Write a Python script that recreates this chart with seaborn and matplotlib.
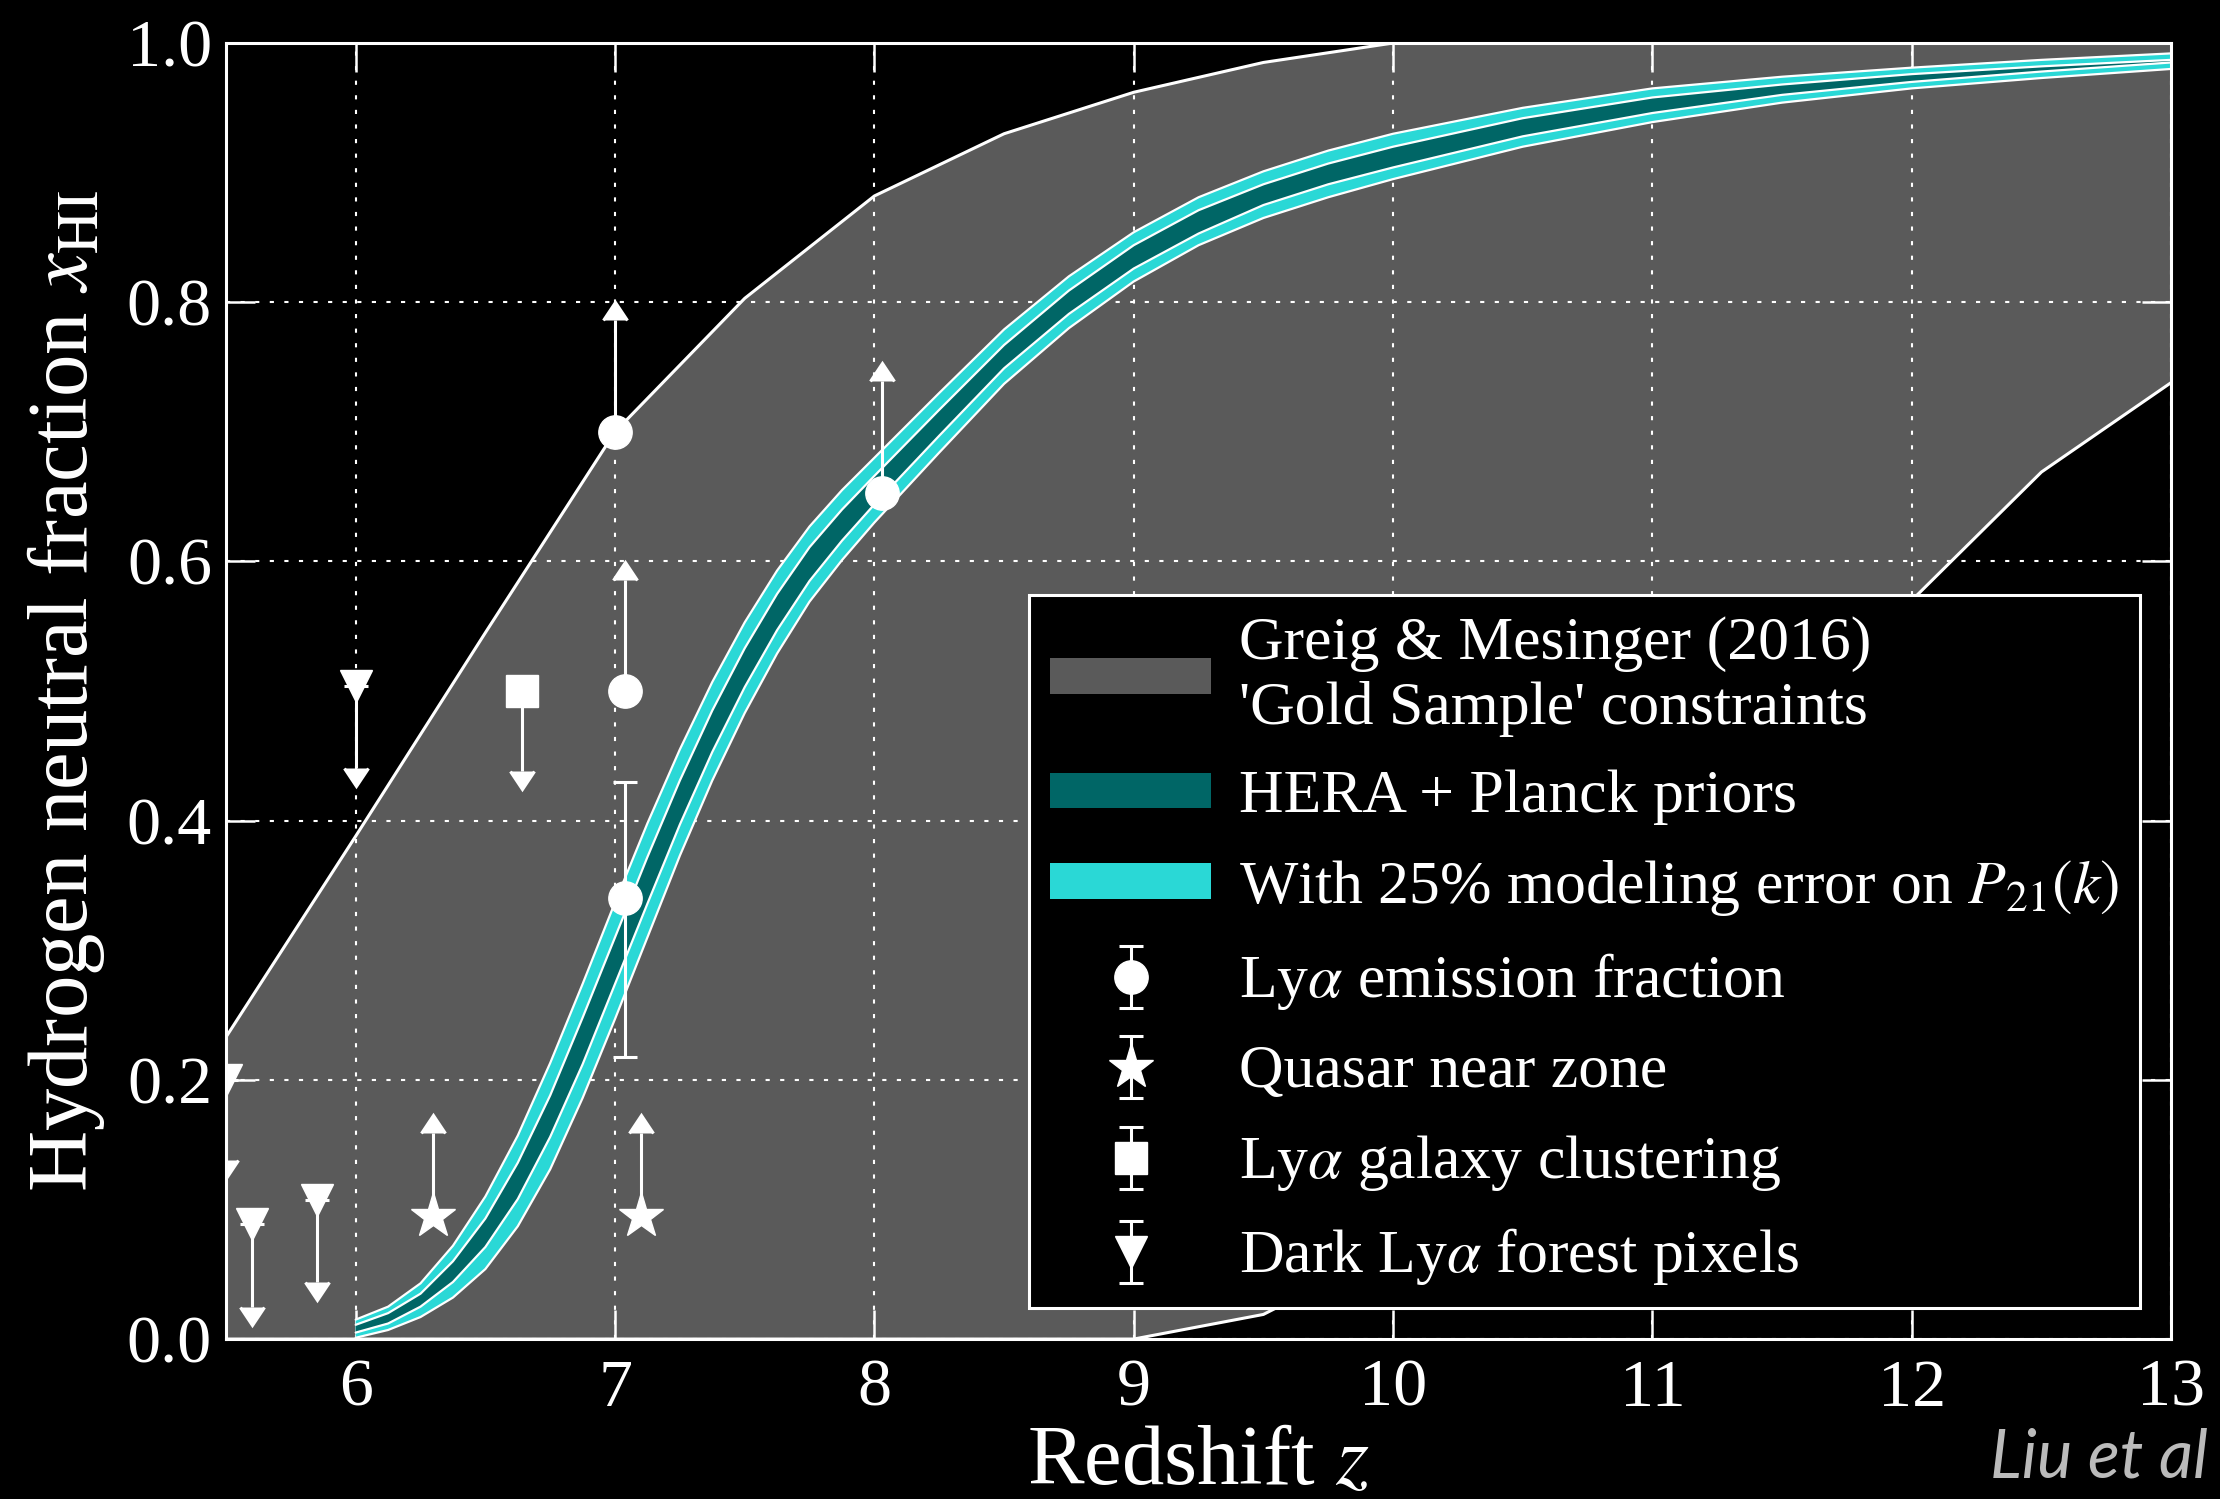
import matplotlib
matplotlib.use("Agg")
import matplotlib.pyplot as plt
from matplotlib.ticker import FormatStrFormatter
import pandas as pd
import seaborn as sns

# Greig & Mesinger (2016) 'Gold Sample' envelope
gm_z = [5.5, 6.0, 6.5, 7.0, 7.5, 8.0, 8.5, 9.0, 9.5, 10.0, 10.5, 11.0, 11.5, 12.0, 12.5, 13.0]
gm_upper = [0.233, 0.388, 0.545, 0.700, 0.803, 0.882, 0.930, 0.962, 0.985, 1.0,
            1.0, 1.0, 1.0, 1.0, 1.0, 1.0]
gm_lower = [0.0, 0.0, 0.0, 0.0, 0.0, 0.0, 0.0, 0.0, 0.019, 0.07,
            0.17, 0.30, 0.44, 0.57, 0.669, 0.738]

# HERA forecast bands
band_z = [6.0, 6.125, 6.25, 6.375, 6.5, 6.625, 6.75, 6.875, 7.0, 7.125, 7.25, 7.375,
          7.5, 7.625, 7.75, 7.875, 8.0, 8.25, 8.5, 8.75, 9.0, 9.25, 9.5, 9.75,
          10.0, 10.5, 11.0, 11.5, 12.0, 12.5, 13.0]
cyan_lo = [0.001, 0.007, 0.017, 0.032, 0.054, 0.087, 0.131, 0.186, 0.247, 0.310, 0.373,
           0.431, 0.483, 0.529, 0.569, 0.601, 0.630, 0.684, 0.737, 0.780, 0.816, 0.844,
           0.865, 0.881, 0.895, 0.920, 0.939, 0.954, 0.965, 0.973, 0.980]
cyan_hi = [0.015, 0.025, 0.043, 0.072, 0.110, 0.157, 0.213, 0.274, 0.337, 0.398, 0.455,
           0.507, 0.553, 0.593, 0.627, 0.655, 0.680, 0.730, 0.779, 0.820, 0.854, 0.881,
           0.901, 0.917, 0.930, 0.950, 0.965, 0.974, 0.981, 0.987, 0.992]
teal_lo = [0.005, 0.012, 0.025, 0.044, 0.071, 0.108, 0.156, 0.212, 0.274, 0.336, 0.397,
           0.453, 0.503, 0.547, 0.585, 0.616, 0.644, 0.697, 0.749, 0.791, 0.826, 0.853,
           0.875, 0.891, 0.904, 0.928, 0.946, 0.960, 0.970, 0.978, 0.985]
teal_hi = [0.011, 0.020, 0.035, 0.060, 0.093, 0.136, 0.188, 0.248, 0.310, 0.372, 0.431,
           0.485, 0.533, 0.575, 0.611, 0.640, 0.666, 0.717, 0.767, 0.809, 0.844, 0.871,
           0.891, 0.907, 0.920, 0.942, 0.958, 0.968, 0.976, 0.982, 0.987]

# Observational constraints
emis_z = [7.0, 7.04, 7.04, 8.03]
emis_x = [0.700, 0.500, 0.340, 0.653]
emis_err_lo = [0.0, 0.0, 0.122, 0.0]
emis_err_hi = [0.086, 0.086, 0.090, 0.086]
emis_lolim = [True, True, False, True]

qso_z = [6.3, 7.1]
qso_x = [0.095, 0.095]
qso_err = [0.064, 0.064]

clus_z = [6.64]
clus_x = [0.50]
clus_err = [0.062]

dark_z = [5.5, 5.6, 5.85, 6.0]
dark_x = [0.200, 0.089, 0.107, 0.504]
dark_err = [0.062, 0.064, 0.063, 0.063]

x_ticks = [6, 7, 8, 9, 10, 11, 12, 13]
y_ticks = [0.0, 0.2, 0.4, 0.6, 0.8, 1.0]

GREY = "#5a5a5a"
TEAL = "#006666"
CYAN = "#2ad8d6"

sns.set_style("ticks")
plt.rcParams.update({
    "font.family": ["Liberation Serif", "DejaVu Serif"],
    "mathtext.fontset": "stix",
    "text.color": "white",
    "axes.labelcolor": "white",
    "xtick.color": "white",
    "ytick.color": "white",
    "axes.edgecolor": "white",
    "figure.facecolor": "black",
    "axes.facecolor": "black",
})

fig = plt.figure(figsize=(22.2, 14.99), dpi=100, facecolor="black")
ax = fig.add_axes([0.1018, 0.1067, 0.8762, 0.8646])
ax.set_facecolor("black")
ax.set_axisbelow(True)

gm = pd.DataFrame({"z": gm_z, "upper": gm_upper, "lower": gm_lower})
band = pd.DataFrame({"z": band_z, "cyan_lo": cyan_lo, "cyan_hi": cyan_hi,
                     "teal_lo": teal_lo, "teal_hi": teal_hi})

gm_fill = ax.fill_between(gm["z"], gm["lower"], gm["upper"], facecolor=GREY,
                          edgecolor="none", linewidth=0, zorder=0.2)
for col in ["upper", "lower"]:
    sns.lineplot(data=gm, x="z", y=col, color="white", linewidth=2.2,
                 estimator=None, ax=ax, zorder=0.3)

cyan_fill = ax.fill_between(band["z"], band["cyan_lo"], band["cyan_hi"],
                            facecolor=CYAN, edgecolor="none", linewidth=0, zorder=1.0)
for col in ["cyan_lo", "cyan_hi"]:
    sns.lineplot(data=band, x="z", y=col, color="white", linewidth=1.6,
                 estimator=None, ax=ax, zorder=1.05)
teal_fill = ax.fill_between(band["z"], band["teal_lo"], band["teal_hi"],
                            facecolor=TEAL, edgecolor="none", linewidth=0, zorder=1.1)
for col in ["teal_lo", "teal_hi"]:
    sns.lineplot(data=band, x="z", y=col, color="white", linewidth=1.6,
                 estimator=None, ax=ax, zorder=1.15)

ekw = dict(color="white", mfc="white", mec="white", ecolor="white",
           elinewidth=2.2, capsize=8.5, capthick=2.2, linestyle="none", zorder=3)
emis = ax.errorbar(emis_z, emis_x, yerr=[emis_err_lo, emis_err_hi], lolims=emis_lolim,
                   marker="o", ms=24, **ekw)
qso = ax.errorbar(qso_z, qso_x, yerr=qso_err, lolims=True, marker="*", ms=34, **ekw)
clus = ax.errorbar(clus_z, clus_x, yerr=clus_err, uplims=True, marker="s", ms=23, **ekw)
dark = ax.errorbar(dark_z, dark_x, yerr=dark_err, uplims=True, marker="v", ms=23, **ekw)

ax.set_xlim(5.5, 13)
ax.set_ylim(0, 1)
ax.set_xticks(x_ticks)
ax.set_yticks(y_ticks)
ax.yaxis.set_major_formatter(FormatStrFormatter("%.1f"))
ax.minorticks_off()
ax.tick_params(which="major", direction="in", length=21, width=1.8, colors="white",
               labelsize=49, top=True, right=True, bottom=True, left=True)
ax.tick_params(axis="x", pad=14)
ax.tick_params(axis="y", pad=10)
ax.grid(True, color="white", linestyle=(0, (2, 5)), linewidth=1.5)
for sp in ax.spines.values():
    sp.set_visible(True)
    sp.set_color("white")
    sp.set_linewidth(2.2)

ax.set_xlabel("Redshift $z$", fontsize=61, color="white", labelpad=4)
ax.set_ylabel("Hydrogen neutral fraction $x_{\\rm HI}$", fontsize=61, color="white",
              labelpad=14)

handles = [gm_fill, teal_fill, cyan_fill, emis, qso, clus, dark]
labels = ["Greig & Mesinger (2016)\n'Gold Sample' constraints",
          "HERA + Planck priors",
          "With 25% modeling error on $P_{21}(k)$",
          "Ly$\\alpha$ emission fraction",
          "Quasar near zone",
          "Ly$\\alpha$ galaxy clustering",
          "Dark Ly$\\alpha$ forest pixels"]
leg = ax.legend(handles, labels, loc="lower right", fontsize=44.5, frameon=True,
                fancybox=False, framealpha=1, facecolor="black", edgecolor="white",
                borderaxespad=0.5, borderpad=0.35, handlelength=2.6, handleheight=0.5,
                handletextpad=0.45, labelspacing=0.53, numpoints=1)
leg.get_frame().set_linewidth(2.2)
leg.set_zorder(5)
for t in leg.get_texts():
    t.set_color("white")

fig.text(1990 / 2220, (1499 - 1478) / 1499, "Liu et al", fontsize=48,
         family=["Lato", "DejaVu Sans"], style="italic", color="#bbbbbb",
         ha="left", va="baseline")

fig.savefig("out.png", dpi=100, facecolor="black")
